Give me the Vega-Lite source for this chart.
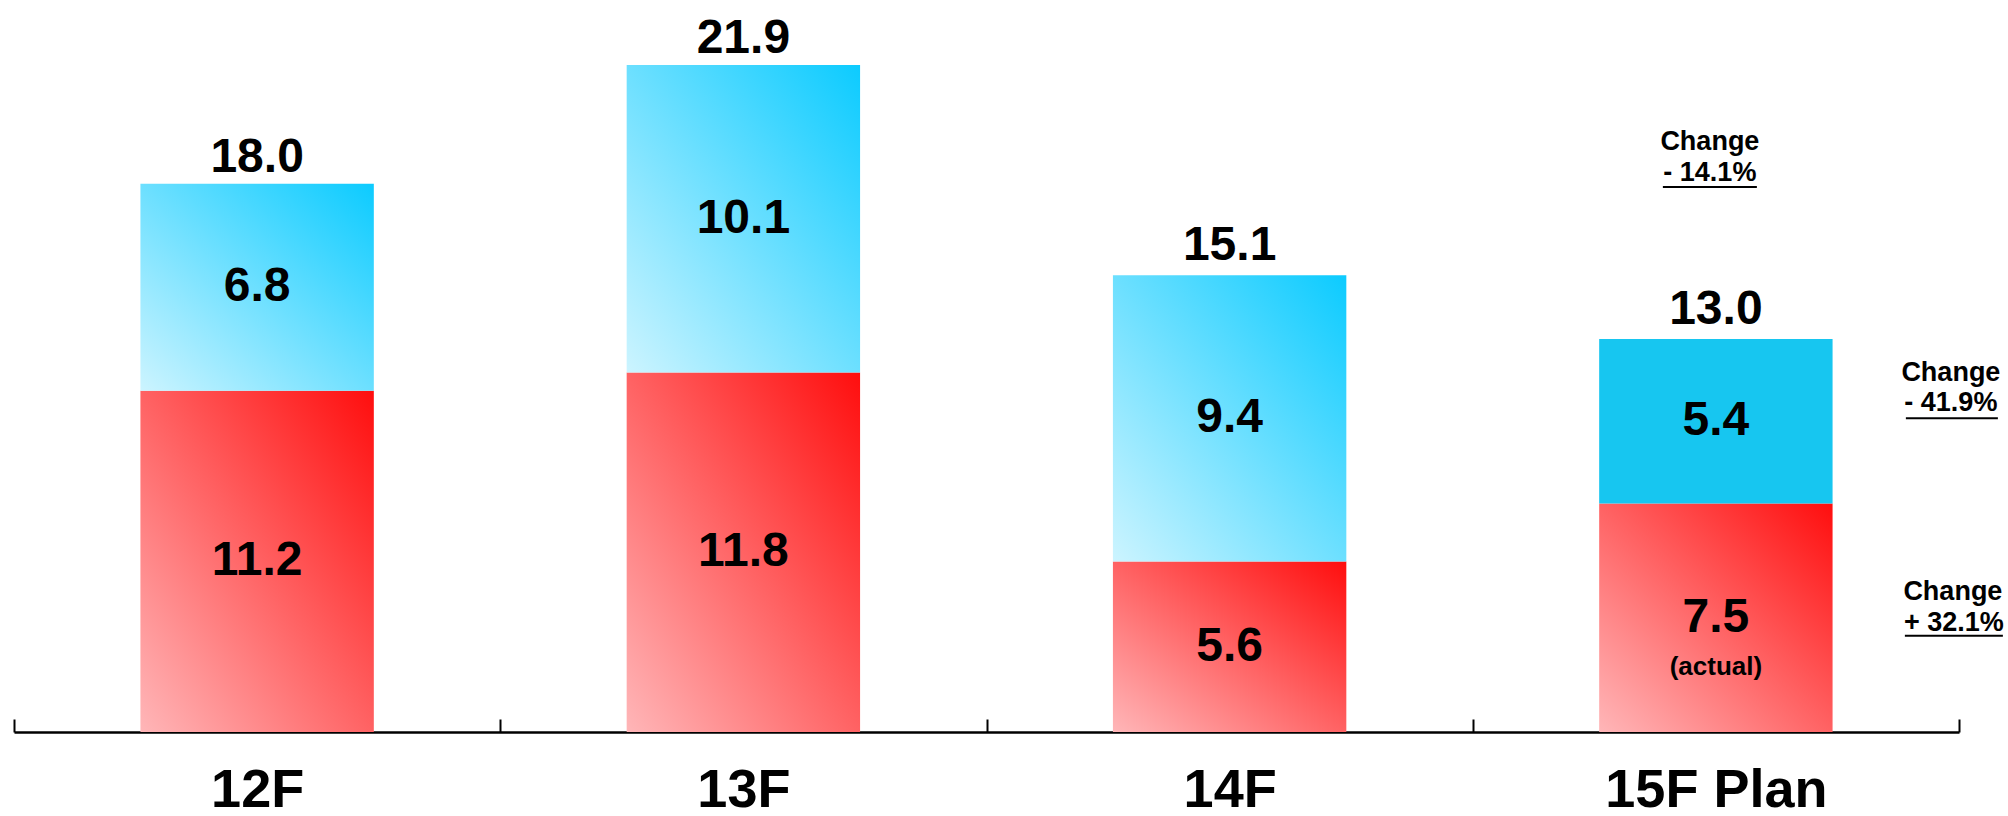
{
  "$schema": "https://vega.github.io/schema/vega-lite/v6.json",
  "width": 1945,
  "height": 731,
  "autosize": "none",
  "padding": {"left": 14, "top": 1, "right": 49, "bottom": 84},
  "background": "white",
  "config": {
    "view": {"stroke": null},
    "font": "Liberation Sans",
    "text": {"font": "Liberation Sans", "fontWeight": "bold", "color": "black"}
  },
  "datasets": {
    "segments": [
      {"category": "12F", "series": "lower", "value": 11.2, "note": "", "change": ""},
      {"category": "12F", "series": "upper", "value": 6.8, "note": "", "change": ""},
      {"category": "13F", "series": "lower", "value": 11.8, "note": "", "change": ""},
      {"category": "13F", "series": "upper", "value": 10.1, "note": "", "change": ""},
      {"category": "14F", "series": "lower", "value": 5.6, "note": "", "change": ""},
      {"category": "14F", "series": "upper", "value": 9.4, "note": "", "change": ""},
      {"category": "15F Plan", "series": "lower", "value": 7.5, "note": "(actual)", "change": "+ 32.1%"},
      {"category": "15F Plan", "series": "upper", "value": 5.4, "note": "", "change": "- 41.9%"}
    ],
    "totals": [
      {"category": "12F", "value": 18.0},
      {"category": "13F", "value": 21.9},
      {"category": "14F", "value": 15.1},
      {"category": "15F Plan", "value": 13.0, "change": "- 14.1%"}
    ]
  },
  "encoding": {
    "x": {
      "field": "category",
      "type": "nominal",
      "sort": ["12F", "13F", "14F", "15F Plan"],
      "scale": {"paddingInner": 0, "paddingOuter": 0},
      "axis": {
        "title": null,
        "grid": false,
        "domainColor": "black",
        "domainWidth": 2.5,
        "tickColor": "black",
        "tickWidth": 2,
        "tickSize": -13,
        "tickBand": "extent",
        "labelFont": "Liberation Sans",
        "labelFontWeight": "bold",
        "labelFontSize": 54,
        "labelColor": "black",
        "labelBaseline": "alphabetic",
        "labelPadding": 87,
        "labelAngle": 0,
        "labelLimit": 0
      }
    }
  },
  "layer": [
    {
      "data": {"name": "segments"},
      "mark": {"type": "bar", "width": {"band": 0.48}},
      "encoding": {
        "y": {"field": "value", "type": "quantitative", "stack": "zero", "scale": {"domain": [0, 24]}, "axis": null},
        "detail": {"field": "series"},
        "order": {"field": "series", "type": "ordinal", "sort": "ascending"},
        "color": {
          "condition": [
            {"test": "datum.series === 'lower'", "value": {"gradient": "linear", "x1": 0, "y1": 1, "x2": 1, "y2": 0, "stops": [{"offset": 0, "color": "#FFB6B8"}, {"offset": 1, "color": "#FF0E0E"}]}},
            {"test": "datum.category === '15F Plan'", "value": "#17C6F0"}
          ],
          "value": {"gradient": "linear", "x1": 0, "y1": 1, "x2": 1, "y2": 0, "stops": [{"offset": 0, "color": "#CCF4FF"}, {"offset": 1, "color": "#0CCBFF"}]}
        }
      }
    },
    {
      "data": {"name": "segments"},
      "mark": {"type": "text", "fontSize": 48, "baseline": "middle"},
      "encoding": {
        "y": {"field": "value", "type": "quantitative", "stack": "zero", "bandPosition": 0.5, "scale": {"domain": [0, 24]}, "axis": null},
        "detail": {"field": "series"},
        "order": {"field": "series", "type": "ordinal", "sort": "ascending"},
        "text": {"field": "value", "type": "quantitative", "format": ".1f"}
      }
    },
    {
      "data": {"name": "segments"},
      "mark": {"type": "text", "fontSize": 26, "baseline": "middle", "dy": 49},
      "encoding": {
        "y": {"field": "value", "type": "quantitative", "stack": "zero", "bandPosition": 0.5, "scale": {"domain": [0, 24]}, "axis": null},
        "detail": {"field": "series"},
        "order": {"field": "series", "type": "ordinal", "sort": "ascending"},
        "text": {"field": "note", "type": "nominal"}
      }
    },
    {
      "data": {"name": "totals"},
      "mark": {"type": "text", "fontSize": 48, "baseline": "alphabetic", "dy": -12},
      "encoding": {
        "y": {"field": "value", "type": "quantitative", "scale": {"domain": [0, 24]}, "axis": null},
        "text": {"field": "value", "type": "quantitative", "format": ".1f"}
      }
    },
    {
      "data": {"name": "totals"},
      "transform": [{"filter": "isValid(datum.change)"}],
      "mark": {"type": "text", "fontSize": 27, "baseline": "middle", "dy": -194, "dx": -6},
      "encoding": {
        "y": {"field": "value", "type": "quantitative", "scale": {"domain": [0, 24]}, "axis": null},
        "text": {"value": "Change"}
      }
    },
    {
      "data": {"name": "totals"},
      "transform": [{"filter": "isValid(datum.change)"}],
      "mark": {"type": "text", "fontSize": 27, "baseline": "middle", "dy": -163, "dx": -6},
      "encoding": {
        "y": {"field": "value", "type": "quantitative", "scale": {"domain": [0, 24]}, "axis": null},
        "text": {"field": "change", "type": "nominal"}
      }
    },
    {
      "data": {"name": "totals"},
      "transform": [{"filter": "isValid(datum.change)"}],
      "mark": {"type": "tick", "orient": "horizontal", "size": 94, "thickness": 2, "color": "black", "opacity": 1, "yOffset": -149, "xOffset": -6},
      "encoding": {
        "y": {"field": "value", "type": "quantitative", "scale": {"domain": [0, 24]}, "axis": null}
      }
    },
    {
      "data": {"name": "segments"},
      "mark": {"type": "text", "fontSize": 27, "baseline": "middle", "dy": -48, "dx": 235},
      "encoding": {
        "y": {"field": "value", "type": "quantitative", "stack": "zero", "bandPosition": 0.5, "scale": {"domain": [0, 24]}, "axis": null},
        "detail": {"field": "series"},
        "order": {"field": "series", "type": "ordinal", "sort": "ascending"},
        "text": {"condition": {"test": "datum.category === '15F Plan' && datum.series === 'upper'", "value": "Change"}, "value": ""}
      }
    },
    {
      "data": {"name": "segments"},
      "mark": {"type": "text", "fontSize": 27, "baseline": "middle", "dy": -18, "dx": 235},
      "encoding": {
        "y": {"field": "value", "type": "quantitative", "stack": "zero", "bandPosition": 0.5, "scale": {"domain": [0, 24]}, "axis": null},
        "detail": {"field": "series"},
        "order": {"field": "series", "type": "ordinal", "sort": "ascending"},
        "text": {"condition": {"test": "datum.series === 'upper'", "field": "change", "type": "nominal"}, "value": ""}
      }
    },
    {
      "data": {"name": "segments"},
      "mark": {"type": "tick", "orient": "horizontal", "size": 92, "thickness": 2, "color": "black", "yOffset": -3, "xOffset": 236},
      "encoding": {
        "y": {"field": "value", "type": "quantitative", "stack": "zero", "bandPosition": 0.5, "scale": {"domain": [0, 24]}, "axis": null},
        "detail": {"field": "series"},
        "order": {"field": "series", "type": "ordinal", "sort": "ascending"},
        "opacity": {"condition": {"test": "datum.category === '15F Plan' && datum.series === 'upper'", "value": 1}, "value": 0}
      }
    },
    {
      "data": {"name": "segments"},
      "mark": {"type": "text", "fontSize": 27, "baseline": "middle", "dy": -26, "dx": 237},
      "encoding": {
        "y": {"field": "value", "type": "quantitative", "stack": "zero", "bandPosition": 0.5, "scale": {"domain": [0, 24]}, "axis": null},
        "detail": {"field": "series"},
        "order": {"field": "series", "type": "ordinal", "sort": "ascending"},
        "text": {"condition": {"test": "datum.category === '15F Plan' && datum.series === 'lower'", "value": "Change"}, "value": ""}
      }
    },
    {
      "data": {"name": "segments"},
      "mark": {"type": "text", "fontSize": 27, "baseline": "middle", "dy": 5, "dx": 238},
      "encoding": {
        "y": {"field": "value", "type": "quantitative", "stack": "zero", "bandPosition": 0.5, "scale": {"domain": [0, 24]}, "axis": null},
        "detail": {"field": "series"},
        "order": {"field": "series", "type": "ordinal", "sort": "ascending"},
        "text": {"condition": {"test": "datum.series === 'lower'", "field": "change", "type": "nominal"}, "value": ""}
      }
    },
    {
      "data": {"name": "segments"},
      "mark": {"type": "tick", "orient": "horizontal", "size": 98, "thickness": 2, "color": "black", "yOffset": 18, "xOffset": 238},
      "encoding": {
        "y": {"field": "value", "type": "quantitative", "stack": "zero", "bandPosition": 0.5, "scale": {"domain": [0, 24]}, "axis": null},
        "detail": {"field": "series"},
        "order": {"field": "series", "type": "ordinal", "sort": "ascending"},
        "opacity": {"condition": {"test": "datum.category === '15F Plan' && datum.series === 'lower'", "value": 1}, "value": 0}
      }
    }
  ]
}
